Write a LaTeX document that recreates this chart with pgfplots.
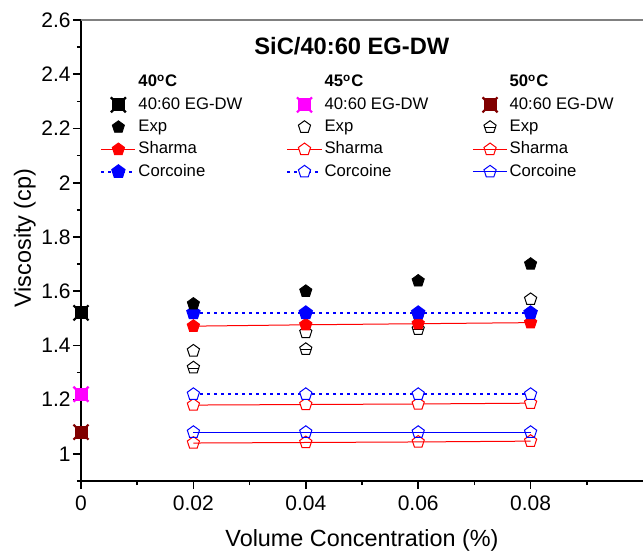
\documentclass[border=0pt]{standalone}
\usepackage{pgfplots}
\pgfplotsset{compat=1.18}
\usepackage{fontspec}
\setmainfont{Liberation Sans}

\pgfdeclareplotmark{notchsq}{%
  \pgfpathrectangle{\pgfqpoint{-0.8\pgfplotmarksize}{-0.8\pgfplotmarksize}}{\pgfqpoint{1.6\pgfplotmarksize}{1.6\pgfplotmarksize}}%
  \pgfusepathqfillstroke
  \pgfsetlinewidth{1.1pt}%
  \pgfpathmoveto{\pgfqpoint{-\pgfplotmarksize}{-\pgfplotmarksize}}%
  \pgfpathlineto{\pgfqpoint{-0.6\pgfplotmarksize}{-0.6\pgfplotmarksize}}%
  \pgfpathmoveto{\pgfqpoint{\pgfplotmarksize}{\pgfplotmarksize}}%
  \pgfpathlineto{\pgfqpoint{0.6\pgfplotmarksize}{0.6\pgfplotmarksize}}%
  \pgfpathmoveto{\pgfqpoint{-\pgfplotmarksize}{\pgfplotmarksize}}%
  \pgfpathlineto{\pgfqpoint{-0.6\pgfplotmarksize}{0.6\pgfplotmarksize}}%
  \pgfpathmoveto{\pgfqpoint{\pgfplotmarksize}{-\pgfplotmarksize}}%
  \pgfpathlineto{\pgfqpoint{0.6\pgfplotmarksize}{-0.6\pgfplotmarksize}}%
  \pgfusepathqstroke
}
\pgfdeclareplotmark{pentbar}{%
  \pgfuseplotmark{pentagon}%
  \pgfpathmoveto{\pgfqpoint{-0.82\pgfplotmarksize}{-0.09\pgfplotmarksize}}%
  \pgfpathlineto{\pgfqpoint{0.82\pgfplotmarksize}{-0.09\pgfplotmarksize}}%
  \pgfusepathqstroke
}

\definecolor{darkred}{RGB}{128,0,0}
\definecolor{pinkish}{RGB}{255,0,255}

\begin{document}
\begin{tikzpicture}
\begin{axis}[
    name=ax,
    scale only axis,
    width=281pt, height=230.5pt,
    xmin=0, xmax=0.1, ymin=0.9, ymax=2.6,
    axis x line*=bottom, axis y line*=left,
    axis line style={line width=1pt},
    xtick={0,0.02,0.04,0.06,0.08},
    xticklabels={0,0.02,0.04,0.06,0.08},
    minor xtick={0.01,0.03,0.05,0.07,0.09},
    ytick={1,1.2,...,2.61},
    minor ytick={0.9,1.1,1.3,1.5,1.7,1.9,2.1,2.3,2.5},
    tick align=outside,
    major tick length=4pt, minor tick length=2pt,
    every tick/.style={black, line width=0.8pt},
    /pgf/number format/assume math mode=true,
    tick label style={font=\fontsize{10.5}{12}\selectfont},
    yticklabel style={inner sep=1pt},
    xlabel={Volume Concentration (\%)},
    ylabel={Viscosity (cp)},
    label style={font=\fontsize{11.7}{14}\selectfont},
    x label style={at={(axis description cs:0.5,-0.128)}, anchor=center},
    y label style={at={(axis description cs:-0.1,0.527)}, anchor=center},
    clip=false,
    mark size=3.2pt,
    legend columns=3,
    legend cell align=left,
    legend style={draw=none, fill=none, at={(0.023,0.896)}, anchor=north west,
        font=\fontsize{8.35}{10}\selectfont,
        nodes={inner sep=1pt, text height=6.3pt, text depth=1.9pt},
        row sep=0.95pt,
        /tikz/every even column/.append style={column sep=21pt}},
]
% 40:60 EG-DW base fluid
\addplot[forget plot, only marks, mark=notchsq, mark size=3.75pt, draw=black, fill=black] coordinates {(0,1.52)};
\addplot[forget plot, only marks, mark=notchsq, mark size=3.75pt, draw=pinkish, fill=pinkish] coordinates {(0,1.22)};
\addplot[forget plot, only marks, mark=notchsq, mark size=3.75pt, draw=darkred, fill=darkred] coordinates {(0,1.08)};
% Sharma
\addplot[forget plot, red, line width=0.5pt, mark=pentagon*, mark options={fill=white}] coordinates {(0.02,1.180) (0.04,1.182) (0.06,1.184) (0.08,1.187)};
\addplot[forget plot, red, line width=0.5pt, mark=pentagon] coordinates {(0.02,1.040) (0.04,1.042) (0.06,1.044) (0.08,1.047)};
% Corcoine
\addplot[forget plot, blue, line width=1pt, dash pattern=on 1.5pt off 2pt, mark=pentagon*, mark options={solid, line width=0.5pt, fill=white}] coordinates {(0.02,1.22) (0.04,1.22) (0.06,1.22) (0.08,1.22)};
\addplot[forget plot, blue, line width=0.5pt, mark=pentagon] coordinates {(0.02,1.08) (0.04,1.08) (0.06,1.08) (0.08,1.08)};
% Exp
\addplot[forget plot, only marks, mark=pentagon*, mark options={draw=black, fill=white, line width=0.5pt}] coordinates {(0.02,1.38) (0.04,1.448) (0.06,1.515) (0.08,1.57)};
\addplot[forget plot, only marks, mark=pentbar, mark options={draw=black, line width=0.5pt}] coordinates {(0.02,1.318) (0.04,1.386) (0.06,1.46) (0.08,1.52)};
\addplot[forget plot, red, line width=0.5pt, mark=pentagon*, mark options={fill=red}] coordinates {(0.02,1.471) (0.04,1.476) (0.06,1.480) (0.08,1.484)};
\addplot[forget plot, blue, line width=1pt, dash pattern=on 1.5pt off 2pt, mark=pentagon*, mark options={solid, fill=blue}] coordinates {(0.02,1.52) (0.04,1.52) (0.06,1.52) (0.08,1.52)};
\addplot[forget plot, only marks, mark=pentagon*, black] coordinates {(0.02,1.553) (0.04,1.60) (0.06,1.638) (0.08,1.70)};

% legend
\addlegendimage{empty legend}\addlegendentry{\textbf{40\textsuperscript{o}C}}
\addlegendimage{empty legend}\addlegendentry{\textbf{45\textsuperscript{o}C}}
\addlegendimage{empty legend}\addlegendentry{\textbf{50\textsuperscript{o}C}}
\addlegendimage{only marks, mark=notchsq, mark size=3.75pt, draw=black, fill=black}\addlegendentry{40:60 EG-DW}
\addlegendimage{only marks, mark=notchsq, mark size=3.75pt, draw=pinkish, fill=pinkish}\addlegendentry{40:60 EG-DW}
\addlegendimage{only marks, mark=notchsq, mark size=3.75pt, draw=darkred, fill=darkred}\addlegendentry{40:60 EG-DW}
\addlegendimage{only marks, mark=pentagon*, black}\addlegendentry{Exp}
\addlegendimage{only marks, mark=pentagon*, mark options={draw=black, fill=white, line width=0.5pt}}\addlegendentry{Exp}
\addlegendimage{only marks, mark=pentbar, mark options={draw=black, line width=0.5pt}}\addlegendentry{Exp}
\addlegendimage{red, line width=0.5pt, mark=pentagon*, mark options={fill=red}}\addlegendentry{Sharma}
\addlegendimage{red, line width=0.5pt, mark=pentagon*, mark options={fill=white}}\addlegendentry{Sharma}
\addlegendimage{red, line width=0.5pt, mark=pentagon}\addlegendentry{Sharma}
\addlegendimage{blue, line width=1pt, dash pattern=on 1.5pt off 2pt, mark=pentagon*, mark options={solid, fill=blue}}\addlegendentry{Corcoine}
\addlegendimage{blue, line width=1pt, dash pattern=on 1.5pt off 2pt, mark=pentagon*, mark options={solid, line width=0.5pt, fill=white}}\addlegendentry{Corcoine}
\addlegendimage{blue, line width=0.5pt, mark=pentagon}\addlegendentry{Corcoine}

\draw[gray, line width=0.7pt] (rel axis cs:0,1) -- (rel axis cs:1,1);
\node[font=\bfseries\fontsize{11.85}{14}\selectfont] at (axis cs:0.0482,2.504) {SiC/40:60 EG-DW};
\end{axis}
\pgfresetboundingbox
\path[use as bounding box] ([xshift=-40.5pt,yshift=-35pt]ax.south west) rectangle ([yshift=10pt]ax.north east);
\end{tikzpicture}
\end{document}
